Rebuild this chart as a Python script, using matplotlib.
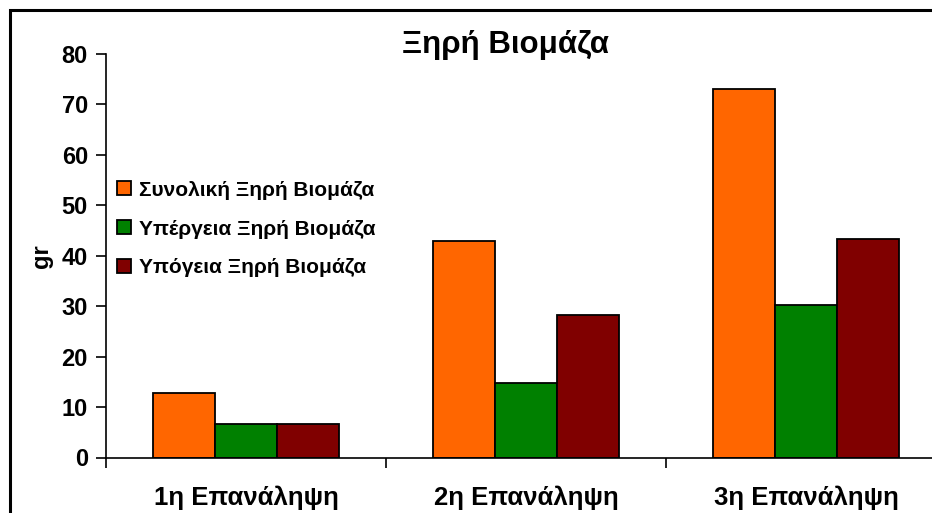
import numpy as np
import matplotlib.pyplot as plt
from matplotlib.patches import Rectangle

plt.rcParams['font.family'] = ['Liberation Sans', 'DejaVu Sans']
plt.rcParams['font.weight'] = 'bold'

categories = ["1η Επανάληψη", "2η Επανάληψη", "3η Επανάληψη"]
series_names = ["Συνολική Ξηρή Βιομάζα", "Υπέργεια Ξηρή Βιομάζα", "Υπόγεια Ξηρή Βιομάζα"]
total = [12.8, 42.9, 73.0]
above = [6.7, 14.8, 30.2]
below = [6.7, 28.2, 43.3]
colors = ["#FF6600", "#008000", "#800000"]

fig = plt.figure(figsize=(9.32, 5.13), dpi=100)
ax = fig.add_axes([106 / 932, (513 - 457.5) / 513, 840 / 932, 403.5 / 513])

# outer chart frame, cut off on the right and bottom
fig.patches.append(Rectangle((10 / 932, -0.1), 1.2, (513 - 10) / 513 + 0.1,
                             transform=fig.transFigure, fill=False,
                             edgecolor='black', linewidth=2.2))

x = np.arange(len(categories))
w = 62 / 280
for i, (vals, name) in enumerate(zip([total, above, below], series_names)):
    ax.bar(x + (i - 1) * w, vals, width=w, color=colors[i], edgecolor='black',
           linewidth=1.3, label=name)

ax.set_xlim(-0.5, 2.5)
ax.set_ylim(0, 80)
ax.set_yticks(range(0, 81, 10))
ax.set_xticks(x)
ax.set_xticklabels(categories, fontsize=18.5, fontweight='bold')
ax.set_xticks([-0.5, 0.5, 1.5, 2.5], minor=True)
ax.tick_params(axis='x', which='major', length=0, pad=20)
ax.tick_params(axis='x', which='minor', length=7, width=1.2)
ax.tick_params(axis='y', length=7, width=1.2, labelsize=17, pad=6)
for lbl in ax.get_yticklabels():
    lbl.set_fontweight('bold')

for s in ['top', 'right']:
    ax.spines[s].set_visible(False)
for s in ['left', 'bottom']:
    ax.spines[s].set_linewidth(1.2)

ax.set_ylabel("gr", fontsize=17, fontweight='bold', labelpad=6)
fig.text(505 / 932, 1 - 45 / 513, "Ξηρή Βιομάζα", ha='center', va='center',
         fontsize=22.5, fontweight='bold')

ax.legend(loc='upper left', bbox_to_anchor=(-0.004, 0.722), frameon=False,
          fontsize=15, handlelength=0.65, handleheight=0.65, handletextpad=0.4,
          labelspacing=0.95, borderaxespad=0.3)

fig.savefig("out.png", dpi=100)
